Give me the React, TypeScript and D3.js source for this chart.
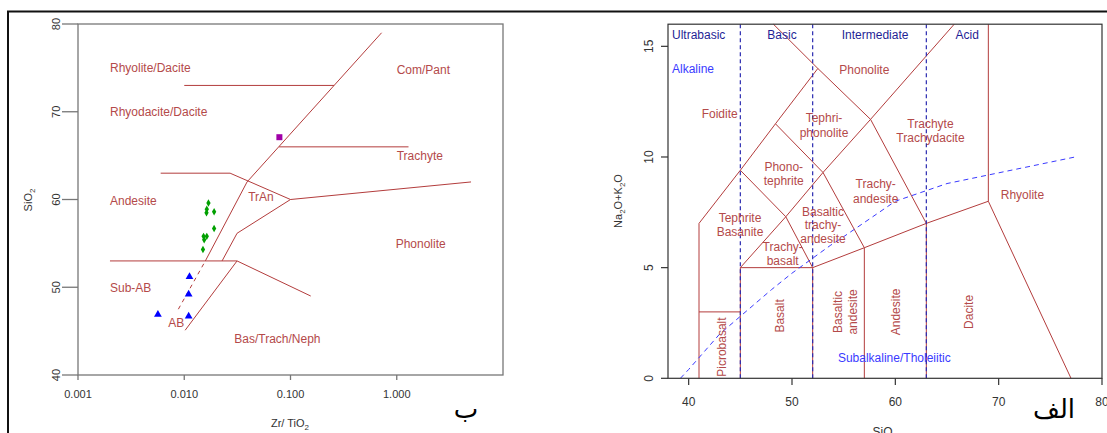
import React from "react";
import * as d3 from "d3";

// ---------- Left panel (Winchester & Floyd: Zr/TiO2 vs SiO2) ----------
const leftXTicks = [0.001, 0.01, 0.1, 1];
const leftXTickLabels = ["0.001", "0.010", "0.100", "1.000"];
const leftYTicks = [40, 50, 60, 70, 80];

const wfLines: [number, number][][] = [
  [[0.01, 73], [0.257, 73]],
  [[0.0158, 53], [0.039, 62], [0.72, 79]],
  [[0.078, 66], [1.29, 66]],
  [[0.006, 63], [0.027, 63], [0.1, 60], [5, 62]],
  [[0.1, 60], [0.0314, 56.15], [0.0227, 53]],
  [[0.002, 53], [0.0314, 53], [0.155, 49]],
  [[0.0102, 45.1], [0.0314, 53]],
];
const wfDashed: [number, number][] = [[0.0088, 47.5], [0.0158, 53]];

const wfLabels: { t: string; x: number; y: number; a: string }[] = [
  { t: "Rhyolite/Dacite", x: 0.002, y: 75, a: "start" },
  { t: "Rhyodacite/Dacite", x: 0.002, y: 70, a: "start" },
  { t: "Com/Pant", x: 1.78, y: 74.8, a: "middle" },
  { t: "Trachyte", x: 1.65, y: 65, a: "middle" },
  { t: "Andesite", x: 0.002, y: 59.85, a: "start" },
  { t: "TrAn", x: 0.0527, y: 60.3, a: "middle" },
  { t: "Phonolite", x: 1.68, y: 54.9, a: "middle" },
  { t: "Sub-AB", x: 0.002, y: 49.95, a: "start" },
  { t: "AB", x: 0.0084, y: 45.9, a: "middle" },
  { t: "Bas/Trach/Neph", x: 0.0753, y: 44.1, a: "middle" },
];

const greenPts: [number, number][] = [
  [0.0169, 59.6], [0.0163, 58.9], [0.0191, 58.6], [0.0162, 58.5],
  [0.0191, 56.7], [0.0152, 55.8], [0.0163, 55.8], [0.0154, 55.4], [0.015, 54.3],
];
const bluePts: [number, number][] = [
  [0.0112, 51.2], [0.011, 49.2], [0.011, 46.7], [0.00565, 46.9],
];
const purplePts: [number, number][] = [[0.0786, 67.1]];

// ---------- Right panel (TAS) ----------
const rightXTicks = [40, 50, 60, 70, 80];
const rightYTicks = [0, 5, 10, 15];

const tasLines: [number, number][][] = [
  [[41, 0], [41, 7], [45, 9.4], [48.4, 11.5], [52.5, 14], [48.2, 16]],
  [[41, 3], [45, 3]],
  [[45, 0], [45, 5], [52, 5], [52, 0]],
  [[52, 5], [57, 5.9], [63, 7], [69, 8], [77, 0]],
  [[57, 0], [57, 5.9]],
  [[63, 0], [63, 7]],
  [[69, 8], [69, 16]],
  [[45, 5], [49.4, 7.3], [53, 9.3], [57.6, 11.7], [65.7, 16]],
  [[45, 9.4], [49.4, 7.3], [52, 5]],
  [[48.4, 11.5], [53, 9.3], [57, 5.9]],
  [[52.5, 14], [57.6, 11.7], [63, 7]],
];
const silicaDividers = [45, 52, 63];
const alkCurve: [number, number][] = [
  [39.2, 0], [40, 0.4], [43, 2], [45, 2.8], [48, 4], [50, 4.75],
  [53.7, 6], [55, 6.4], [60, 8], [65, 8.8], [77.4, 10],
];

const tasLabels: { t: string[]; x: number; y: number[] }[] = [
  { t: ["Foidite"], x: 43.0, y: [11.94] },
  { t: ["Phonolite"], x: 57.0, y: [13.93] },
  { t: ["Tephri-", "phonolite"], x: 53.1, y: [11.76, 11.1] },
  { t: ["Phono-", "tephrite"], x: 49.2, y: [9.56, 8.92] },
  { t: ["Tephrite", "Basanite"], x: 44.97, y: [7.24, 6.61] },
  { t: ["Basaltic", "trachy-", "andesite"], x: 53.0, y: [7.51, 6.93, 6.3] },
  { t: ["Trachy-", "basalt"], x: 49.1, y: [5.93, 5.3] },
  { t: ["Trachy-", "andesite"], x: 58.1, y: [8.77, 8.1] },
  { t: ["Trachyte", "Trachydacite"], x: 63.4, y: [11.49, 10.86] },
  { t: ["Rhyolite"], x: 72.3, y: [8.28] },
];
const tasRotLabels: { t: string; x: number; y: number }[] = [
  { t: "Picrobasalt", x: 43.2, y: 1.41 },
  { t: "Basalt", x: 48.8, y: 2.82 },
  { t: "Basaltic", x: 54.4, y: 3.0 },
  { t: "andesite", x: 55.9, y: 3.0 },
  { t: "Andesite", x: 60.0, y: 3.0 },
  { t: "Dacite", x: 67.1, y: 3.0 },
];
const seriesLabelsTop: { t: string; x: number; a: string }[] = [
  { t: "Ultrabasic", x: 38.39, a: "start" },
  { t: "Basic", x: 49.03, a: "middle" },
  { t: "Intermediate", x: 58.04, a: "middle" },
  { t: "Acid", x: 66.95, a: "middle" },
];

const RED = "#b33c3c";
const RED_TXT = "#b44a4a";
const FONT = "'Liberation Sans', Arial, sans-serif";

export default function App() {
  const xL = d3.scaleLog().domain([0.001, 10]).range([78, 503]);
  const yL = d3.scaleLinear().domain([40, 80]).range([375, 24]);
  const xR = d3.scaleLinear().domain([38, 80]).range([668, 1102]);
  const yR = d3.scaleLinear().domain([0, 16]).range([378.3, 24.2]);

  const lineL = d3.line<[number, number]>().x((d) => xL(d[0])).y((d) => yL(d[1]));
  const lineR = d3.line<[number, number]>().x((d) => xR(d[0])).y((d) => yR(d[1]));

  const diamond = d3.symbol().type(d3.symbolDiamond).size(16)()!;
  const triangle = d3.symbol().type(d3.symbolTriangle).size(26)()!;

  return (
    <svg
      width={1107}
      height={433}
      style={{ position: "absolute", left: 0, top: 0, background: "#fff" }}
      fontFamily={FONT}
    >
      {/* outer frame */}
      <line x1={7} x2={1107} y1={11.5} y2={11.5} stroke="#111" strokeWidth={2} />
      <line x1={8} x2={8} y1={11} y2={433} stroke="#111" strokeWidth={2} />

      {/* ---------- LEFT PANEL ---------- */}
      <rect x={78} y={24} width={425} height={351} fill="none" stroke="#777" strokeWidth={1.3} />
      {leftYTicks.map((t) => (
        <g key={"ly" + t}>
          <line x1={62} x2={78} y1={yL(t)} y2={yL(t)} stroke="#777" strokeWidth={1.3} />
          <text
            transform={`translate(60,${yL(t)}) rotate(-90)`}
            textAnchor="middle"
            fontSize={11}
            fill="#333"
          >
            {t}
          </text>
        </g>
      ))}
      {leftXTicks.map((t, i) => (
        <g key={"lx" + t}>
          <line x1={xL(t)} x2={xL(t)} y1={375} y2={380} stroke="#777" strokeWidth={1.3} />
          <text x={xL(t)} y={398} textAnchor="middle" fontSize={11} fill="#333">
            {leftXTickLabels[i]}
          </text>
        </g>
      ))}
      <text transform="translate(32,200) rotate(-90)" textAnchor="middle" fontSize={11} fill="#333">
        SiO<tspan fontSize={8} dy={3}>2</tspan>
      </text>
      <text x={290} y={427} textAnchor="middle" fontSize={11} fill="#333">
        Zr/ TiO<tspan fontSize={8} dy={3}>2</tspan>
      </text>

      {wfLines.map((l, i) => (
        <path key={"wf" + i} d={lineL(l)!} fill="none" stroke={RED} strokeWidth={1} />
      ))}
      <path d={lineL(wfDashed)!} fill="none" stroke={RED} strokeWidth={1} strokeDasharray="4,4" />
      {wfLabels.map((l) => (
        <text
          key={l.t}
          x={xL(l.x)}
          y={yL(l.y)}
          dy="0.35em"
          textAnchor={l.a}
          fontSize={12}
          fill={RED_TXT}
        >
          {l.t}
        </text>
      ))}
      {greenPts.map((p, i) => (
        <path key={"g" + i} d={diamond} transform={`translate(${xL(p[0])},${yL(p[1])})`} fill="#00a000" />
      ))}
      {bluePts.map((p, i) => (
        <path key={"b" + i} d={triangle} transform={`translate(${xL(p[0])},${yL(p[1])})`} fill="#0000ff" />
      ))}
      {purplePts.map((p, i) => (
        <rect key={"p" + i} x={xL(p[0]) - 3} y={yL(p[1]) - 3} width={6} height={6} fill="#a000a8" />
      ))}
      <text x={466} y={418} textAnchor="middle" fontSize={26} fontFamily="'DejaVu Sans', 'Noto Sans', sans-serif" fill="#000">
        ب
      </text>

      {/* ---------- RIGHT PANEL ---------- */}
      {tasLines.map((l, i) => (
        <path key={"tas" + i} d={lineR(l)!} fill="none" stroke={RED} strokeWidth={1} />
      ))}
      {silicaDividers.map((s) => (
        <line
          key={"sd" + s}
          x1={xR(s)}
          x2={xR(s)}
          y1={yR(0)}
          y2={yR(16)}
          stroke="#2a2ab0"
          strokeWidth={1.2}
          strokeDasharray="4,3"
        />
      ))}
      <path
        d={lineR(alkCurve)!}
        fill="none"
        stroke="#3a3aff"
        strokeWidth={1}
        strokeDasharray="5,4"
      />
      <rect x={668} y={24.2} width={434} height={354.1} fill="none" stroke="#333" strokeWidth={1.2} />
      {rightYTicks.map((t) => (
        <g key={"ry" + t}>
          <line x1={661} x2={668} y1={yR(t)} y2={yR(t)} stroke="#333" strokeWidth={1.2} />
          <text
            transform={`translate(653,${yR(t)}) rotate(-90)`}
            textAnchor="middle"
            fontSize={12}
            fill="#333"
          >
            {t}
          </text>
        </g>
      ))}
      {rightXTicks.map((t) => (
        <g key={"rx" + t}>
          <line x1={xR(t)} x2={xR(t)} y1={378.3} y2={385} stroke="#333" strokeWidth={1.2} />
          <text x={xR(t)} y={406} textAnchor="middle" fontSize={12} fill="#333">
            {t}
          </text>
        </g>
      ))}
      <text transform="translate(622,201) rotate(-90)" textAnchor="middle" fontSize={11} fill="#333">
        Na<tspan fontSize={8} dy={3}>2</tspan>
        <tspan dy={-3}>O+K</tspan>
        <tspan fontSize={8} dy={3}>2</tspan>
        <tspan dy={-3}>O</tspan>
      </text>
      <text x={885} y={436} textAnchor="middle" fontSize={12} fill="#333">
        SiO<tspan fontSize={9} dy={3}>2</tspan>
      </text>

      {seriesLabelsTop.map((l) => (
        <text
          key={l.t}
          x={xR(l.x)}
          y={yR(15.51)}
          dy="0.35em"
          textAnchor={l.a}
          fontSize={12}
          fill="#1f1f96"
        >
          {l.t}
        </text>
      ))}
      <text x={xR(38.39)} y={yR(13.98)} dy="0.35em" fontSize={12} fill="#3a3aff">
        Alkaline
      </text>
      <text x={xR(59.9)} y={yR(0.93)} dy="0.35em" textAnchor="middle" fontSize={12} fill="#3a3aff">
        Subalkaline/Tholeiitic
      </text>
      {tasLabels.map((l, i) => (
        <g key={"tl" + i}>
          {l.t.map((s, j) => (
            <text
              key={j}
              x={xR(l.x)}
              y={yR(l.y[j])}
              dy="0.35em"
              textAnchor="middle"
              fontSize={12}
              fill={RED_TXT}
            >
              {s}
            </text>
          ))}
        </g>
      ))}
      {tasRotLabels.map((l, i) => (
        <text
          key={"tr" + i}
          transform={`translate(${xR(l.x)},${yR(l.y)}) rotate(-90)`}
          dy="0.35em"
          textAnchor="middle"
          fontSize={12}
          fill={RED_TXT}
        >
          {l.t}
        </text>
      ))}
      <text x={1054} y={418} textAnchor="middle" fontSize={26} fontFamily="'DejaVu Sans', 'Noto Sans', sans-serif" fill="#000">
        الف
      </text>
    </svg>
  );
}
